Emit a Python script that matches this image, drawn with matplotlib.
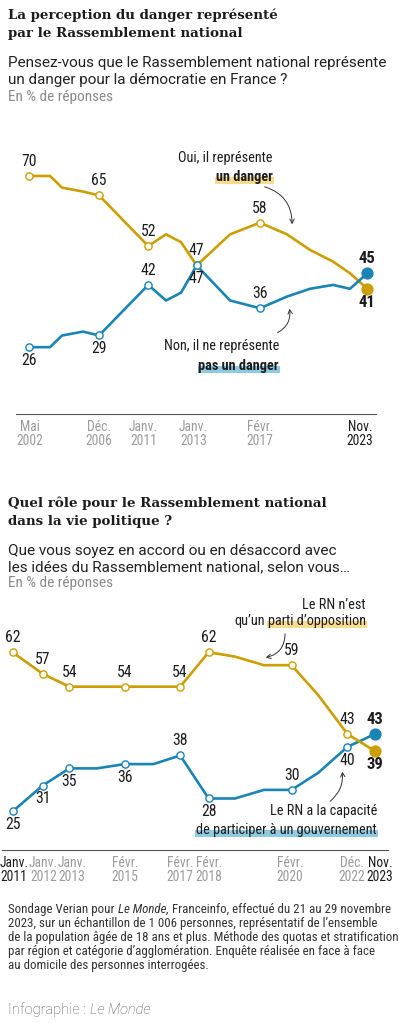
import matplotlib
matplotlib.use("Agg")
import matplotlib.pyplot as plt
from matplotlib import font_manager
from matplotlib.patches import FancyArrowPatch, Rectangle
from matplotlib.transforms import IdentityTransform

W, H = 399, 1023

# --- chart 1 : is the RN a danger for democracy ---
danger_dates = [2002.37, 2003.69, 2004.46, 2005.80, 2006.82, 2009.96, 2011.09, 2012.05,
                2013.05, 2015.18, 2017.09, 2018.81, 2020.28, 2021.75, 2022.83, 2023.94]
danger_oui = [70, 70, 67, 66, 65, 52, 55, 53, 47, 55, 58, 55, 51, 48, 45, 41]
danger_non = [26, 26, 29, 30, 29, 42, 38, 40, 47, 38, 36, 39, 41, 42, 41, 45]
danger_marked = [0, 4, 5, 8, 10, 15]
danger_tick_pos = [2002.41, 2006.82, 2009.65, 2012.84, 2017.09, 2023.47]
danger_tick_month = ["Mai", "Déc.", "Janv.", "Janv.", "Févr.", "Nov."]
danger_tick_year = ["2002", "2006", "2011", "2013", "2017", "2023"]

# --- chart 2 : role of the RN ---
role_dates = [2011.00, 2012.06, 2013.01, 2013.98, 2014.97, 2015.99, 2016.94, 2017.95,
              2018.88, 2019.91, 2020.89, 2021.84, 2022.87, 2023.85]
role_opposition = [62, 57, 54, 54, 54, 54, 54, 62, 61, 59, 59, 52, 43, 39]
role_gouvernement = [25, 31, 35, 35, 36, 36, 38, 28, 28, 30, 30, 34, 40, 43]
role_marked = [0, 1, 2, 4, 6, 7, 10, 12, 13]
role_tick_pos = [2011.05, 2012.09, 2013.10, 2014.98, 2016.93, 2017.96, 2020.83, 2023.02, 2024.03]
role_tick_month = ["Janv.", "Janv.", "Janv.", "Févr.", "Févr.", "Févr.", "Févr.", "Déc.", "Nov."]
role_tick_year = ["2011", "2012", "2013", "2015", "2017", "2018", "2020", "2022", "2023"]

footer_lines = [
    "2023, sur un échantillon de 1 006 personnes, représentatif de l’ensemble",
    "de la population âgée de 18 ans et plus. Méthode des quotas et stratification",
    "par région et catégorie d’agglomération. Enquête réalisée en face à face",
    "au domicile des personnes interrogées.",
]

GOLD = "#cc9e00"
BLUE = "#1a84b5"
GOLD_HL = "#f7dc8f"
BLUE_HL = "#8ecae0"
INK = "#1c1c1c"
GREY = "#9b9b9b"

names = {f.name for f in font_manager.fontManager.ttflist}
COND = "Liberation Sans"
for cand in ["Roboto Condensed", "Liberation Sans Narrow", "DejaVu Sans Condensed", "Open Sans Condensed"]:
    if cand in names:
        COND = cand
        break
SERIF = "DejaVu Serif"
SANS = "Roboto"

fig = plt.figure(figsize=(W / 100, H / 100), dpi=100)
fig.patch.set_facecolor("white")
renderer = fig.canvas.get_renderer()


def fx(x):
    return x / W


def fy(y):
    return 1 - y / H


def put(x, y, s, **kw):
    kw.setdefault("va", "center")
    return fig.text(fx(x), fy(y), s, **kw)


def width_of(s, **kw):
    t = put(0, 0, s, **kw)
    w = t.get_window_extent(renderer).width
    t.remove()
    return w


def highlight(t, color):
    bb = t.get_window_extent(renderer)
    fig.add_artist(Rectangle((bb.x0 - 1, bb.y0), bb.width + 2, bb.height * 0.5,
                             transform=IdentityTransform(), facecolor=color,
                             edgecolor="none", zorder=0))


def arrow(p0, p1, rad):
    fig.add_artist(FancyArrowPatch((fx(p0[0]), fy(p0[1])), (fx(p1[0]), fy(p1[1])),
                                   transform=fig.transFigure, connectionstyle=f"arc3,rad={rad}",
                                   arrowstyle="->,head_length=3,head_width=1.6",
                                   lw=0.7, color="#333333", zorder=5))


def setup_axis(ax, xlim, ylim, base, ticks, months, years, dark):
    ax.set_xlim(*xlim)
    ax.set_ylim(*ylim)
    ax.patch.set_alpha(0)
    for s in ["top", "left", "right"]:
        ax.spines[s].set_visible(False)
    span = xlim[1] - xlim[0]
    ax.spines["bottom"].set_bounds(xlim[0] + base[0] / W * span, xlim[0] + base[1] / W * span)
    ax.spines["bottom"].set_color("#555555")
    ax.spines["bottom"].set_linewidth(0.8)
    ax.set_yticks([])
    ax.set_xticks(ticks)
    ax.set_xticklabels([f"{m}\n{y}" for m, y in zip(months, years)])
    ax.tick_params(axis="x", length=0, pad=4)
    for i, t in enumerate(ax.get_xticklabels()):
        t.set_family(COND)
        t.set_fontsize(9.8)
        t.set_linespacing(1.05)
        t.set_color(INK if i in dark else GREY)


def draw_series(ax, dates, values, marked, color, below):
    ax.plot(dates, values, color=color, lw=1.9, solid_joinstyle="round",
            solid_capstyle="round", zorder=3, clip_on=False)
    ax.plot([dates[i] for i in marked[:-1]], [values[i] for i in marked[:-1]], ls="none",
            marker="o", ms=5.2, mfc="white", mec=color, mew=1.0, zorder=4, clip_on=False)
    ax.plot([dates[-1]], [values[-1]], marker="o", ms=7.8, color=color, zorder=5, clip_on=False)
    for k, i in enumerate(marked):
        last = i == len(values) - 1
        ax.annotate(f"{values[i]}", (dates[i], values[i]),
                    xytext=(0, -9.5 if below[k] else 10.5), textcoords="offset points",
                    ha="center", va="center", family=COND, color=INK, zorder=6,
                    fontsize=12 if last else 11.3, fontweight="bold" if last else "normal")


# ---------------- header 1 ----------------
tkw = dict(family=SERIF, weight="bold", fontsize=9.6, color=INK)
skw = dict(family=SANS, fontsize=11.0, color="#222222")
put(8, 15, "La perception du danger représenté", **tkw)
put(8, 33, "par le Rassemblement national", **tkw)
put(8, 63, "Pensez-vous que le Rassemblement national représente", **skw)
put(8, 80, "un danger pour la démocratie en France ?", **skw)
put(8, 97, "En % de réponses", family=COND, fontsize=11, color="#8a8a8a")

# ---------------- chart 1 ----------------
ax1 = fig.add_axes([0, fy(414), 1, (414 - 140) / H])
setup_axis(ax1, (2000.50, 2025.96), (8.82, 79.25), (16, 376),
           danger_tick_pos, danger_tick_month, danger_tick_year, dark=[5])
draw_series(ax1, danger_dates, danger_oui, danger_marked, GOLD,
            below=[False, False, False, False, False, True])
draw_series(ax1, danger_dates, danger_non, danger_marked, BLUE,
            below=[True, True, False, True, False, False])

akw = dict(family=COND, fontsize=10.3, color=INK, ha="right")
put(273, 158, "Oui, il représente", **akw)
t = put(273, 177, "un danger", weight="bold", zorder=2, **akw)
highlight(t, GOLD_HL)
arrow((262, 186), (292, 227), -0.4)

put(279, 346, "Non, il ne représente", **akw)
t = put(279, 366, "pas un danger", weight="bold", zorder=2, **akw)
highlight(t, BLUE_HL)
arrow((275, 334), (289, 306), 0.4)

# ---------------- header 2 ----------------
put(8, 503, "Quel rôle pour le Rassemblement national", **tkw)
put(8, 521, "dans la vie politique ?", **tkw)
put(8, 551, "Que vous soyez en accord ou en désaccord avec", **skw)
put(8, 567, "les idées du Rassemblement national, selon vous…", **skw)
put(8, 583, "En % de réponses", family=COND, fontsize=11, color="#8a8a8a")

# ---------------- chart 2 ----------------
ax2 = fig.add_axes([0, fy(850), 1, (850 - 600) / H])
setup_axis(ax2, (2010.55, 2024.70), (16.02, 74.16), (2, 388),
           role_tick_pos, role_tick_month, role_tick_year, dark=[0, 8])
draw_series(ax2, role_dates, role_gouvernement, role_marked, BLUE,
            below=[True, True, True, True, False, True, False, True, False])
draw_series(ax2, role_dates, role_opposition, role_marked, GOLD,
            below=[False] * 8 + [True])

put(366, 605, "Le RN n’est", **akw)
t = put(366, 621, "parti d’opposition", zorder=2, **akw)
highlight(t, GOLD_HL)
x0 = t.get_window_extent(renderer).x0
put(x0 - 3, 621, "qu’un", **akw)
arrow((285, 631), (263, 658), -0.45)

put(377, 811, "Le RN a la capacité", **akw)
t = put(377, 830, "de participer à un gouvernement", zorder=2, **akw)
highlight(t, BLUE_HL)
arrow((328, 803), (342, 769), 0.3)

# ---------------- footer ----------------
fkw = dict(family=COND, fontsize=9.3, color="#333333")
sp = width_of("a a", **fkw) - width_of("aa", **fkw)
x = 8
for s, style in [("Sondage Verian pour", "normal"), ("Le Monde,", "italic"),
                 ("Franceinfo, effectué du 21 au 29 novembre", "normal")]:
    t = put(x, 909, s, style=style, **fkw)
    x += t.get_window_extent(renderer).width + sp
for i, line in enumerate(footer_lines):
    put(8, 923 + 14 * i, line, **fkw)

ikw = dict(family=SANS, fontsize=10.5, weight="light", color="#555555")
t = put(8, 1010, "Infographie :", **ikw)
x = 8 + t.get_window_extent(renderer).width + 4
put(x, 1010, "Le Monde", style="italic", **ikw)

fig.savefig("out.png", dpi=100, facecolor="white")
